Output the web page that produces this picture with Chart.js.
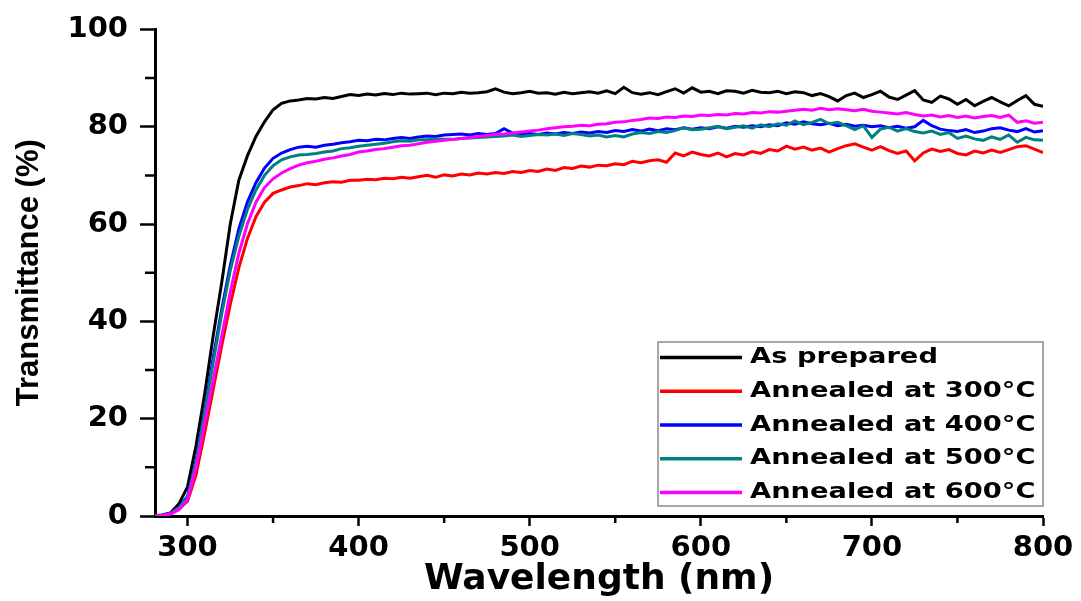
<!DOCTYPE html>
<html><head><meta charset="utf-8">
<script src="https://cdn.jsdelivr.net/npm/chart.js@4.4.1/dist/chart.umd.min.js"></script>
<style>html,body{margin:0;padding:0;background:#fff;}canvas{display:block;}</style>
</head><body>
<canvas id="c" width="1081" height="601"></canvas>
<script>
const wavelength = [
280,285,290,295,300,305,310,315,320,325,330,335,340,345,350,355,360,365,370,375,380,385,390,395,400,
405,410,415,420,425,430,435,440,445,450,
455,460,465,470,475,480,485,490,495,500,
505,510,515,520,525,530,535,540,545,550,
555,560,565,570,575,580,585,590,595,600,
605,610,615,620,625,630,635,640,645,650,
655,660,665,670,675,680,685,690,695,700,
705,710,715,720,725,730,735,740,745,750,
755,760,765,770,775,780,785,790,795,800];

const asPrepared = [
0,0.2,0.6,2.5,6,14.5,25,37,48,60,69,74,78,81,83.5,84.8,85.3,85.5,85.8,85.7,86,85.8,86.2,86.6,86.4,
86.7,86.5,86.8,86.6,86.9,86.7,86.8,86.9,86.6,86.9,
86.8,87.1,86.9,87.0,87.2,87.8,87.1,86.8,87.0,87.3,
86.9,87.0,86.7,87.1,86.8,87.0,87.2,86.9,87.4,86.8,
88.1,87.0,86.7,87.0,86.6,87.2,87.8,86.9,88.0,87.1,
87.3,86.8,87.4,87.3,86.9,87.5,87.1,87.0,87.3,86.8,
87.2,87.0,86.4,86.8,86.2,85.3,86.4,86.9,86.0,86.6,
87.3,86.1,85.6,86.5,87.4,85.5,85.0,86.3,85.7,84.6,
85.6,84.3,85.2,86.0,85.1,84.3,85.4,86.4,84.6,84.2];

const annealed300 = [
0,0.1,0.4,1.5,3,8.5,17,26,35,43.5,51,57,61.5,64.5,66.3,67,67.6,67.9,68.3,68.1,68.5,68.7,68.6,69.0,69.0,
69.2,69.1,69.4,69.3,69.6,69.4,69.7,70.0,69.6,70.1,
69.9,70.3,70.1,70.5,70.3,70.6,70.4,70.8,70.6,71.0,
70.8,71.3,71.0,71.6,71.4,71.9,71.7,72.1,72.0,72.4,
72.2,72.9,72.6,73.0,73.2,72.7,74.6,74.0,74.8,74.3,
74.0,74.6,73.8,74.5,74.2,74.9,74.5,75.3,75.0,76.0,
75.4,75.8,75.2,75.6,74.8,75.5,76.1,76.5,75.8,75.2,
75.9,75.1,74.5,75.0,73.0,74.6,75.4,74.9,75.3,74.5,
74.2,75.0,74.6,75.2,74.7,75.3,75.9,76.1,75.4,74.7];

const annealed400 = [
0,0.1,0.5,1.8,4,11.5,21.5,32.5,42.5,51.5,59,64.5,68.5,71.5,73.5,74.6,75.3,75.8,76.0,75.8,76.2,76.4,76.7,76.9,77.2,
77.1,77.4,77.3,77.6,77.8,77.6,77.9,78.1,78.0,78.3,
78.4,78.5,78.3,78.6,78.4,78.6,79.6,78.7,78.5,78.6,
78.4,78.7,78.5,78.8,78.6,78.9,78.7,79.0,78.8,79.2,
79.0,79.4,79.1,79.5,79.2,79.6,79.4,79.8,79.5,79.8,
79.6,80.0,79.7,80.1,79.9,80.2,80.0,80.4,80.2,80.8,
80.5,81.0,80.6,80.4,80.7,80.2,80.5,80.1,80.3,80.0,
80.2,79.8,80.1,79.7,80.0,81.3,80.2,79.5,79.2,79.0,
79.4,78.8,79.1,79.6,79.8,79.3,79.0,79.6,78.9,79.2];

const annealed500 = [
0,0.1,0.5,1.7,3.8,11,21,31.5,41.5,50.5,57.5,63,67,70,72,73.2,73.8,74.2,74.3,74.5,74.8,75.0,75.5,75.7,76.0,
76.2,76.4,76.6,76.9,77.1,77.0,77.3,77.3,77.5,77.4,
77.4,77.6,77.7,77.8,77.9,78.0,78.1,78.3,78.0,78.2,
78.4,78.3,78.5,78.2,78.6,78.4,78.1,78.3,77.9,78.2,
77.9,78.5,78.8,78.6,79.0,78.8,79.2,79.8,79.4,79.5,
79.8,80.1,79.6,79.9,80.2,79.7,80.4,80.0,80.6,80.3,
81.2,80.4,80.9,81.5,80.6,80.9,80.2,79.4,80.2,77.8,
79.5,79.9,79.1,79.6,79.0,78.7,79.1,78.4,78.8,77.6,
78.1,77.5,77.2,77.9,77.4,78.3,76.8,77.8,77.3,77.2];

const annealed600 = [
0,0.1,0.4,1.3,3.3,10,19,28,37,46,54,60,64.5,67.5,69.3,70.5,71.4,72.1,72.6,72.9,73.3,73.6,74.0,74.3,74.8,
75.0,75.3,75.5,75.8,76.1,76.2,76.5,76.8,77.0,77.2,
77.4,77.6,77.8,78.0,78.2,78.4,78.5,78.7,78.9,79.1,
79.3,79.6,79.8,80.0,80.1,80.3,80.2,80.5,80.6,80.9,
81.0,81.3,81.5,81.8,81.7,82.0,81.9,82.2,82.1,82.4,
82.3,82.5,82.4,82.7,82.6,82.9,82.8,83.1,83.0,83.2,
83.4,83.6,83.4,83.8,83.5,83.7,83.5,83.3,83.6,83.2,
83.0,82.8,82.6,82.9,82.5,82.2,82.4,82.0,82.3,81.9,
82.2,81.8,82.1,82.3,81.9,82.4,80.9,81.2,80.7,80.9];

const seriesNames = ['As prepared','Annealed at 300°C','Annealed at 400°C','Annealed at 500°C','Annealed at 600°C'];
const seriesValues = [asPrepared, annealed300, annealed400, annealed500, annealed600];
const seriesColors = ['#000000','#ff0000','#0000ff','#008080','#ff00ff'];
const xTicks = [300,400,500,600,700,800];
const xMinorTicks = [350,450,550,650,750];
const yTicks = [0,20,40,60,80,100];
const yMinorTicks = [10,30,50,70,90];

const datasets = seriesValues.map((vals,i)=>({
  label: seriesNames[i],
  data: vals.map((v,j)=>({x: wavelength[j], y: v})),
  borderColor: seriesColors[i],
  backgroundColor: seriesColors[i],
  borderWidth: 3,
  pointRadius: 0,
  tension: 0,
  fill: false,
  order: seriesValues.length - 1 - i
}));

const minorTicks = {
  id: 'minorTicks',
  afterDraw(chart){
    const {ctx, chartArea, scales:{x, y}} = chart;
    ctx.save();
    ctx.strokeStyle = '#000';
    ctx.lineWidth = 2.5;
    ctx.beginPath();
    xMinorTicks.forEach(v=>{
      const px = x.getPixelForValue(v);
      ctx.moveTo(px, chartArea.bottom); ctx.lineTo(px, chartArea.bottom + 7);
    });
    yMinorTicks.forEach(v=>{
      const py = y.getPixelForValue(v);
      ctx.moveTo(chartArea.left, py); ctx.lineTo(chartArea.left - 10, py);
    });
    ctx.stroke();
    ctx.restore();
  }
};

const boxLegend = {
  id: 'boxLegend',
  afterDraw(chart){
    const {ctx, chartArea} = chart;
    const right = chartArea.right;
    const bottom = chartArea.bottom - 10;
    const left = right - 385;
    const top = bottom - 164;
    ctx.save();
    ctx.fillStyle = '#ffffff';
    ctx.fillRect(left, top, right - left, bottom - top);
    ctx.strokeStyle = '#8a8a8a';
    ctx.lineWidth = 1.5;
    ctx.strokeRect(left, top, right - left, bottom - top);
    const rowH = 33.75;
    chart.data.datasets.forEach((ds, i)=>{
      const cy = top + 15.5 + i * rowH;
      ctx.strokeStyle = ds.borderColor;
      ctx.lineWidth = 3.5;
      ctx.beginPath(); ctx.moveTo(left + 2, cy); ctx.lineTo(left + 84, cy); ctx.stroke();
      ctx.save();
      ctx.translate(left + 92, cy);
      ctx.scale(1.27, 1);
      ctx.font = 'bold 21.5px "DejaVu Sans"';
      ctx.fillStyle = '#000';
      ctx.textBaseline = 'middle';
      ctx.fillText(ds.label, 0, 0);
      ctx.restore();
    });
    ctx.restore();
  }
};

new Chart(document.getElementById('c'), {
  type: 'line',
  data: { datasets },
  options: {
    responsive: false,
    animation: false,
    devicePixelRatio: 1,
    layout: { padding: { top: 26, right: 38, left: 0, bottom: 0 } },
    plugins: { legend: { display: false }, tooltip: { enabled: false } },
    scales: {
      x: {
        type: 'linear', min: 281, max: 800,
        afterBuildTicks: s => { s.ticks = xTicks.map(v => ({ value: v })); },
        afterFit: s => { s.height = 85; },
        grid: { display: true, drawOnChartArea: false, drawTicks: true, tickLength: 10, tickWidth: 2.5, tickColor: '#000' },
        border: { display: true, color: '#000', width: 3 },
        ticks: { color: '#000', font: { family: 'DejaVu Sans', weight: 'bold', size: 29 }, padding: 5, maxRotation: 0, autoSkip: false },
        title: { display: true, text: 'Wavelength (nm)', color: '#000', font: { family: 'DejaVu Sans', weight: 'bold', size: 36 }, padding: { top: 0, bottom: 0 } }
      },
      y: {
        type: 'linear', min: 0, max: 100,
        afterBuildTicks: s => { s.ticks = yTicks.map(v => ({ value: v })); },
        afterFit: s => { s.width = 155; },
        grid: { display: true, drawOnChartArea: false, drawTicks: true, tickLength: 15, tickWidth: 2.5, tickColor: '#000' },
        border: { display: true, color: '#000', width: 3 },
        ticks: { color: '#000', font: { family: 'DejaVu Sans', weight: 'bold', size: 29 }, padding: 12, autoSkip: false },
        title: { display: true, text: 'Transmittance (%)', color: '#000', font: { family: "'Liberation Sans', Arial, sans-serif", weight: 'bold', size: 31 }, padding: { top: 11, bottom: 0 } }
      }
    }
  },
  plugins: [minorTicks, boxLegend]
});
</script>
</body></html>
